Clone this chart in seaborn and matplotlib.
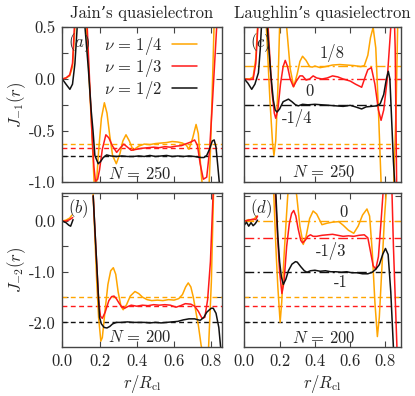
import numpy as np
import pandas as pd
import matplotlib
matplotlib.use("Agg")
import matplotlib.pyplot as plt
import seaborn as sns
from matplotlib.ticker import MultipleLocator, FixedLocator

# ---------------- data ----------------
# panel (a): Jain, N=250, J_{-1}
a_r_q4 = [0, 0.02, 0.04, 0.055, 0.068, 0.08, 0.10, 0.118, 0.128, 0.14, 0.15, 0.16, 0.167, 0.175, 0.184, 0.195, 0.21, 0.226,
          0.24, 0.255, 0.27, 0.29, 0.31, 0.325, 0.342, 0.36, 0.38, 0.41, 0.44, 0.47, 0.50, 0.53, 0.56, 0.59, 0.62, 0.645,
          0.665, 0.68, 0.70, 0.718, 0.73, 0.745, 0.755, 0.77, 0.785, 0.795, 0.805, 0.815, 0.83]
a_J_q4 = [0, 0.01, 0.03, 0.12, 0.5, 0.95, 1.15, 0.95, 0.55, 0.15, -0.2, -0.55, -0.85, -1.15, -1.0, -0.7, -0.38, -0.23,
          -0.33, -0.55, -0.74, -0.82, -0.72, -0.6, -0.54, -0.6, -0.69, -0.65, -0.63, -0.635, -0.625, -0.62, -0.615, -0.605,
          -0.61, -0.62, -0.64, -0.68, -0.57, -0.44, -0.53, -0.9, -1.1, -1.3, -1.15, -0.7, -0.1, 0.55, 1.3]
a_r_q3 = [0, 0.02, 0.04, 0.055, 0.065, 0.08, 0.10, 0.12, 0.134, 0.15, 0.16, 0.17, 0.178, 0.19, 0.2, 0.215, 0.234, 0.25,
          0.27, 0.292, 0.31, 0.33, 0.35, 0.37, 0.40, 0.43, 0.46, 0.49, 0.52, 0.55, 0.58, 0.61, 0.64, 0.66, 0.69, 0.71,
          0.725, 0.74, 0.757, 0.775, 0.79, 0.805, 0.83, 0.85]
a_J_q3 = [0, 0.01, 0.04, 0.15, 0.5, 1.0, 1.2, 1.0, 0.5, -0.15, -0.55, -0.85, -0.99, -0.97, -0.88, -0.68, -0.54, -0.57,
          -0.65, -0.71, -0.67, -0.63, -0.66, -0.69, -0.68, -0.67, -0.665, -0.66, -0.665, -0.655, -0.66, -0.65, -0.645,
          -0.63, -0.61, -0.59, -0.64, -0.82, -0.97, -0.95, -0.7, -0.25, 0.55, 1.2]
a_r_q2 = [0, 0.02, 0.041, 0.055, 0.068, 0.08, 0.09, 0.10, 0.11, 0.122, 0.14, 0.155, 0.165, 0.175, 0.193, 0.205, 0.22,
          0.238, 0.26, 0.29, 0.32, 0.35, 0.38, 0.41, 0.44, 0.47, 0.50, 0.53, 0.56, 0.59, 0.62, 0.65, 0.68, 0.71, 0.74,
          0.76, 0.775, 0.79, 0.805, 0.815, 0.825, 0.835, 0.845, 0.86]
a_J_q2 = [0, -0.05, -0.1, -0.05, 0.15, 0.5, 0.85, 1.0, 0.9, 0.5, 0.1, -0.3, -0.5, -0.74, -0.82, -0.8, -0.76, -0.735,
          -0.745, -0.75, -0.745, -0.75, -0.75, -0.745, -0.75, -0.74, -0.75, -0.745, -0.74, -0.75, -0.745, -0.75, -0.745,
          -0.75, -0.76, -0.76, -0.74, -0.68, -0.6, -0.59, -0.66, -0.85, -1.05, -1.3]

# panel (b): Jain, N=200, J_{-2}
b_r0_q4 = [0, 0.02, 0.04, 0.052]
b_J0_q4 = [0, 0.02, 0.06, 0.12]
b_r0_q3 = [0, 0.02, 0.04, 0.056]
b_J0_q3 = [0, 0.0, 0.03, 0.07]
b_r0_q2 = [0, 0.02, 0.035, 0.045, 0.058]
b_J0_q2 = [0, -0.03, -0.08, -0.1, 0.03]
b_r_q4 = [0.165, 0.175, 0.185, 0.195, 0.207, 0.215, 0.23, 0.245, 0.26, 0.274, 0.287, 0.3, 0.315, 0.327, 0.345, 0.365,
          0.39, 0.41, 0.43, 0.455, 0.48, 0.51, 0.54, 0.57, 0.6, 0.625, 0.645, 0.662, 0.676, 0.69, 0.703, 0.715, 0.73,
          0.745, 0.765, 0.785, 0.8, 0.812]
b_J_q4 = [0.6, -0.3, -1.2, -1.9, -2.37, -2.3, -1.75, -1.25, -0.98, -0.92, -1.05, -1.4, -1.68, -1.75, -1.65, -1.48,
          -1.39, -1.43, -1.5, -1.55, -1.57, -1.56, -1.57, -1.55, -1.56, -1.53, -1.45, -1.3, -1.22, -1.3, -1.5, -1.75,
          -2.05, -2.45, -2.8, -2.5, -1.2, 0.6]
b_r_q3 = [0.166, 0.18, 0.195, 0.205, 0.215, 0.23, 0.25, 0.265, 0.278, 0.29, 0.305, 0.32, 0.335, 0.35, 0.37, 0.40,
          0.43, 0.46, 0.49, 0.52, 0.55, 0.58, 0.61, 0.635, 0.66, 0.69, 0.71, 0.73, 0.75, 0.765, 0.78, 0.795, 0.81]
b_J_q3 = [0.5, -0.5, -1.55, -1.88, -1.92, -1.8, -1.57, -1.49, -1.48, -1.53, -1.62, -1.7, -1.72, -1.69, -1.66, -1.68,
          -1.66, -1.67, -1.65, -1.66, -1.65, -1.66, -1.7, -1.67, -1.63, -1.64, -1.68, -1.78, -1.92, -1.9, -1.55, -0.8, 0.6]
b_r_q2 = [0.166, 0.18, 0.2, 0.21, 0.225, 0.24, 0.255, 0.27, 0.29, 0.32, 0.35, 0.38, 0.41, 0.44, 0.47, 0.50, 0.53,
          0.56, 0.59, 0.62, 0.65, 0.68, 0.71, 0.74, 0.76, 0.775, 0.79, 0.80, 0.81, 0.825, 0.84, 0.85, 0.86]
b_J_q2 = [0.5, -0.5, -1.9, -2.03, -2.1, -2.11, -2.08, -2.03, -2.0, -2.0, -1.99, -2.0, -2.0, -2.0, -2.01, -2.0, -2.01,
          -2.0, -1.99, -1.98, -1.95, -1.93, -1.93, -1.96, -1.9, -1.8, -1.75, -1.72, -1.72, -1.82, -2.1, -2.5, -2.9]

# panel (c): Laughlin, N=250, J_{-1}
c_r_q4 = [0, 0.03, 0.05, 0.065, 0.075, 0.09, 0.11, 0.125, 0.145, 0.16, 0.168, 0.178, 0.19, 0.2, 0.22, 0.24, 0.26,
          0.28, 0.3, 0.315, 0.33, 0.35, 0.37, 0.385, 0.40, 0.43, 0.46, 0.50, 0.54, 0.58, 0.62, 0.66, 0.68, 0.70, 0.715,
          0.73, 0.745, 0.76, 0.775, 0.79, 0.82, 0.845, 0.86, 0.87]
c_J_q4 = [0, 0.0, 0.02, 0.2, 0.5, 0.9, 0.9, 0.5, -0.2, -0.62, -0.74, -0.6, -0.1, 0.5, 0.9, 0.5, 0.1, -0.075, 0.05,
          0.17, 0.22, 0.18, 0.12, 0.115, 0.125, 0.11, 0.12, 0.135, 0.14, 0.135, 0.13, 0.12, 0.13, 0.23, 0.40, 0.50, 0.3,
          -0.3, -1.0, -1.3, -1.4, -1.1, -0.3, 0.6]
c_r_q3 = [0, 0.03, 0.05, 0.065, 0.075, 0.09, 0.115, 0.135, 0.155, 0.17, 0.178, 0.19, 0.205, 0.22, 0.232, 0.245, 0.26,
          0.278, 0.295, 0.315, 0.33, 0.35, 0.37, 0.39, 0.41, 0.44, 0.47, 0.50, 0.53, 0.56, 0.60, 0.63, 0.665, 0.685,
          0.70, 0.72, 0.74, 0.76, 0.775, 0.79, 0.81, 0.83, 0.845, 0.855, 0.865]
c_J_q3 = [0, -0.005, 0.0, 0.15, 0.45, 0.9, 0.9, 0.5, -0.1, -0.33, -0.38, -0.3, -0.05, 0.12, 0.18, 0.12, 0.0, -0.075,
          -0.02, 0.03, 0.03, -0.01, 0.0, 0.03, 0.01, 0.0, 0.01, 0.03, 0.02, 0.0, -0.02, -0.05, -0.08, 0.02, 0.09, 0.11,
          -0.05, -0.3, -0.4, -0.3, 0.0, 0.5, 0.9, 0.3, -1.3]
c_r_q2 = [0, 0.02, 0.042, 0.06, 0.08, 0.09, 0.1, 0.115, 0.13, 0.15, 0.164, 0.175, 0.185, 0.2, 0.22, 0.25, 0.27, 0.29,
          0.306, 0.33, 0.36, 0.40, 0.44, 0.48, 0.52, 0.56, 0.60, 0.63, 0.665, 0.69, 0.72, 0.75, 0.77, 0.79, 0.805, 0.816,
          0.825, 0.835, 0.845, 0.852, 0.87]
c_J_q2 = [0, -0.04, -0.1, -0.05, 0.06, 0.28, 0.6, 0.8, 0.5, 0.05, -0.2, -0.3, -0.32, -0.29, -0.22, -0.195, -0.22,
          -0.25, -0.26, -0.245, -0.25, -0.245, -0.25, -0.255, -0.26, -0.265, -0.255, -0.27, -0.29, -0.27, -0.265, -0.26,
          -0.24, -0.15, 0.0, 0.074, 0.0, -0.4, -0.8, -1.0, -1.4]

# panel (d): Laughlin, N=200, J_{-2}
d_r0_q4 = [0, 0.025, 0.05, 0.07]
d_J0_q4 = [0.0, 0.03, 0.02, 0.1]
d_r0_q3 = [0, 0.025, 0.05, 0.065, 0.075]
d_J0_q3 = [0.0, 0.02, 0.04, 0.03, 0.1]
d_r0_q2 = [0, 0.012, 0.025, 0.038, 0.05, 0.062, 0.075]
d_J0_q2 = [-0.08, -0.02, -0.1, -0.03, -0.09, -0.05, 0.02]
d_r_q4 = [0.166, 0.18, 0.19, 0.203, 0.212, 0.225, 0.237, 0.246, 0.26, 0.28, 0.297, 0.315, 0.334, 0.35, 0.37, 0.39,
          0.41, 0.44, 0.47, 0.50, 0.535, 0.56, 0.59, 0.62, 0.645, 0.67, 0.695, 0.71, 0.725, 0.74, 0.754, 0.765, 0.78,
          0.795, 0.805, 0.83]
d_J_q4 = [0.6, -0.6, -1.3, -2.0, -1.6, -0.7, 0.0, 0.5, 0.9, 0.9, 0.5, -0.1, -0.46, -0.3, 0.05, 0.2, 0.14, -0.07, -0.04,
          -0.02, -0.01, -0.08, -0.18, -0.24, -0.1, 0.12, 0.24, 0.1, -0.6, -1.6, -2.28, -1.9, -0.9, 0.1, 0.6, 1.4]
d_r_q3 = [0.175, 0.19, 0.2, 0.213, 0.225, 0.24, 0.255, 0.268, 0.28, 0.292, 0.305, 0.32, 0.33, 0.345, 0.36, 0.375, 0.39,
          0.41, 0.44, 0.47, 0.50, 0.53, 0.56, 0.59, 0.62, 0.65, 0.68, 0.70, 0.715, 0.73, 0.745, 0.76, 0.775, 0.786, 0.80,
          0.82, 0.835, 0.845, 0.86, 0.87]
d_J_q3 = [0.6, -0.4, -1.0, -1.43, -1.2, -0.5, -0.05, 0.15, 0.21, 0.1, -0.15, -0.38, -0.43, -0.38, -0.3, -0.27, -0.3,
          -0.3, -0.28, -0.27, -0.26, -0.28, -0.3, -0.29, -0.3, -0.28, -0.27, -0.33, -0.6, -0.88, -0.95, -0.7, 0.0, 0.55,
          1.2, 1.4, 0.8, -0.5, -2.0, -3.0]
d_r_q2 = [0.178, 0.19, 0.2, 0.21, 0.221, 0.235, 0.25, 0.27, 0.29, 0.3, 0.32, 0.34, 0.355, 0.375, 0.40, 0.43, 0.46,
          0.49, 0.52, 0.55, 0.58, 0.61, 0.64, 0.67, 0.70, 0.725, 0.745, 0.765, 0.785, 0.80, 0.815, 0.83, 0.845, 0.86]
d_J_q2 = [0.6, -0.3, -0.8, -1.1, -1.25, -1.15, -0.98, -0.85, -0.8, -0.81, -0.9, -0.98, -1.01, -0.98, -0.97, -0.99,
          -0.98, -1.0, -1.0, -1.01, -1.0, -1.02, -1.02, -1.04, -1.04, -1.01, -0.95, -0.86, -0.65, -0.54, -0.66, -1.4,
          -2.5, -3.2]

# reference levels
top_dashed = [-5 / 8, -2 / 3, -3 / 4]
bot_dashed = [-3 / 2, -5 / 3, -2.0]
c_dashdot = [1 / 8, 0.0, -1 / 4]
d_dashdot = [0.0, -1 / 3, -1.0]
c_level_text = ["1/8", "0", "-1/4"]
d_level_text = ["0", "-1/3", "-1"]
legend_labels = [r"$\nu\,=\,1/4$", r"$\nu\,=\,1/3$", r"$\nu\,=\,1/2$"]
x_ticks = [0.0, 0.2, 0.4, 0.6, 0.8]
x_ticklabels = ["0.0", "0.2", "0.4", "0.6", "0.8"]
top_yticks = [-1.0, -0.5, 0.0, 0.5]
top_yticklabels = ["-1.0", "-0.5", "0.0", "0.5"]
bot_yticks = [-2.0, -1.0, 0.0]
bot_yticklabels = ["-2.0", "-1.0", "0.0"]

# ---------------- style ----------------
sns.set_style("ticks")
plt.rcParams["font.family"] = ["cmr10", "DejaVu Serif"]
plt.rcParams["mathtext.fontset"] = "cm"
plt.rcParams["axes.unicode_minus"] = False
plt.rcParams["axes.formatter.use_mathtext"] = True

C4, C3, C2 = "#FFA500", "#FF1A1A", "#111111"
FS = 12
LW = 1.1

fig = plt.figure(figsize=(4.15, 3.96), dpi=100)
ax_a = fig.add_axes([0.150, 0.5396, 0.384, 0.3914])
ax_c = fig.add_axes([0.5887, 0.5396, 0.3776, 0.3914])
ax_b = fig.add_axes([0.150, 0.1245, 0.384, 0.3874])
ax_d = fig.add_axes([0.5887, 0.1245, 0.3776, 0.3874])


def draw(ax, r, J, color, label=None):
    df = pd.DataFrame({"r": r, "J": J})
    kw = {} if label is None else {"label": label}
    sns.lineplot(data=df, x="r", y="J", ax=ax, color=color, sort=False,
                 estimator=None, lw=LW, **kw)


for ax, levels in [(ax_a, top_dashed), (ax_c, top_dashed), (ax_b, bot_dashed), (ax_d, bot_dashed)]:
    for lev, col in zip(levels, [C4, C3, C2]):
        ax.axhline(lev, color=col, ls=(0, (3.5, 2.5)), lw=1.0, zorder=1)
for ax, levels in [(ax_c, c_dashdot), (ax_d, d_dashdot)]:
    for lev, col in zip(levels, [C4, C3, C2]):
        ax.axhline(lev, color=col, ls=(0, (7, 2.5, 1.5, 2.5)), lw=1.0, zorder=1)

draw(ax_a, a_r_q4, a_J_q4, C4, legend_labels[0])
draw(ax_a, a_r_q3, a_J_q3, C3, legend_labels[1])
draw(ax_a, a_r_q2, a_J_q2, C2, legend_labels[2])

for r, J, col in [(b_r0_q4, b_J0_q4, C4), (b_r0_q3, b_J0_q3, C3), (b_r0_q2, b_J0_q2, C2),
                  (b_r_q4, b_J_q4, C4), (b_r_q3, b_J_q3, C3), (b_r_q2, b_J_q2, C2)]:
    draw(ax_b, r, J, col)
for r, J, col in [(c_r_q4, c_J_q4, C4), (c_r_q3, c_J_q3, C3), (c_r_q2, c_J_q2, C2)]:
    draw(ax_c, r, J, col)
for r, J, col in [(d_r0_q4, d_J0_q4, C4), (d_r0_q3, d_J0_q3, C3), (d_r0_q2, d_J0_q2, C2),
                  (d_r_q4, d_J_q4, C4), (d_r_q3, d_J_q3, C3), (d_r_q2, d_J_q2, C2)]:
    draw(ax_d, r, J, col)

for ax in [ax_b, ax_c, ax_d]:
    if ax.get_legend() is not None:
        ax.get_legend().remove()

ax_a.legend(loc="upper right", bbox_to_anchor=(0.93, 1.035), frameon=False, markerfirst=False,
            fontsize=FS, handlelength=1.5, handletextpad=0.6, labelspacing=0.0, borderpad=0.3)

# limits and ticks
for ax in [ax_a, ax_b]:
    ax.set_xlim(0, 0.855)
for ax in [ax_c, ax_d]:
    ax.set_xlim(0, 0.888)
for ax in [ax_a, ax_c]:
    ax.set_ylim(-1.0, 0.5)
    ax.yaxis.set_major_locator(FixedLocator(top_yticks))
    ax.yaxis.set_minor_locator(MultipleLocator(0.25))
for ax in [ax_b, ax_d]:
    ax.set_ylim(-2.48, 0.55)
    ax.yaxis.set_major_locator(FixedLocator(bot_yticks))
    ax.yaxis.set_minor_locator(MultipleLocator(0.5))

for ax in [ax_a, ax_b, ax_c, ax_d]:
    ax.set_xticks(x_ticks)
    ax.set_xlabel("")
    ax.set_ylabel("")
    ax.tick_params(which="both", direction="in", top=True, right=True, length=4, width=0.8,
                   color="#444444", labelsize=FS, pad=5)
    ax.tick_params(which="minor", length=4)
    for sp in ax.spines.values():
        sp.set_color("#444444")
        sp.set_linewidth(1.0)

ax_a.set_yticklabels(top_yticklabels)
ax_b.set_yticklabels(bot_yticklabels)
ax_c.set_yticklabels([])
ax_d.set_yticklabels([])
ax_a.set_xticklabels([])
ax_c.set_xticklabels([])
ax_b.set_xticklabels(x_ticklabels)
ax_d.set_xticklabels(x_ticklabels)

ax_a.set_ylabel(r"$J_{-1}(r)$", fontsize=FS)
ax_b.set_ylabel(r"$J_{-2}(r)$", fontsize=FS)
ax_a.yaxis.set_label_coords(-0.215, 0.5)
ax_b.yaxis.set_label_coords(-0.215, 0.5)
ax_b.set_xlabel(r"$r/R_{\rm cl}$", fontsize=FS, labelpad=3)
ax_d.set_xlabel(r"$r/R_{\rm cl}$", fontsize=FS, labelpad=3)
ax_a.set_title("Jain\u2019s quasielectron", fontsize=FS, pad=7)
ax_c.set_title("Laughlin\u2019s quasielectron", fontsize=FS, pad=7)

for ax, lab in [(ax_a, "a"), (ax_b, "b"), (ax_c, "c"), (ax_d, "d")]:
    ax.text(0.035, 0.975, r"$(%s)$" % lab, transform=ax.transAxes, fontsize=FS, va="top", ha="left")

ax_a.text(0.417, -0.91, r"$N\,=\,250$", fontsize=FS, ha="center", va="center")
ax_c.text(0.448, -0.90, r"$N\,=\,250$", fontsize=FS, ha="center", va="center")
ax_b.text(0.417, -2.28, r"$N\,=\,200$", fontsize=FS, ha="center", va="center")
ax_d.text(0.448, -2.30, r"$N\,=\,200$", fontsize=FS, ha="center", va="center")

for (x, y), t in zip([(0.50, 0.25), (0.372, -0.12), (0.297, -0.38)], c_level_text):
    ax_c.text(x, y, t, fontsize=FS, ha="center", va="center")
for (x, y), t in zip([(0.561, 0.167), (0.49, -0.58), (0.548, -1.21)], d_level_text):
    ax_d.text(x, y, t, fontsize=FS, ha="center", va="center")

fig.savefig("out.png", dpi=100)
